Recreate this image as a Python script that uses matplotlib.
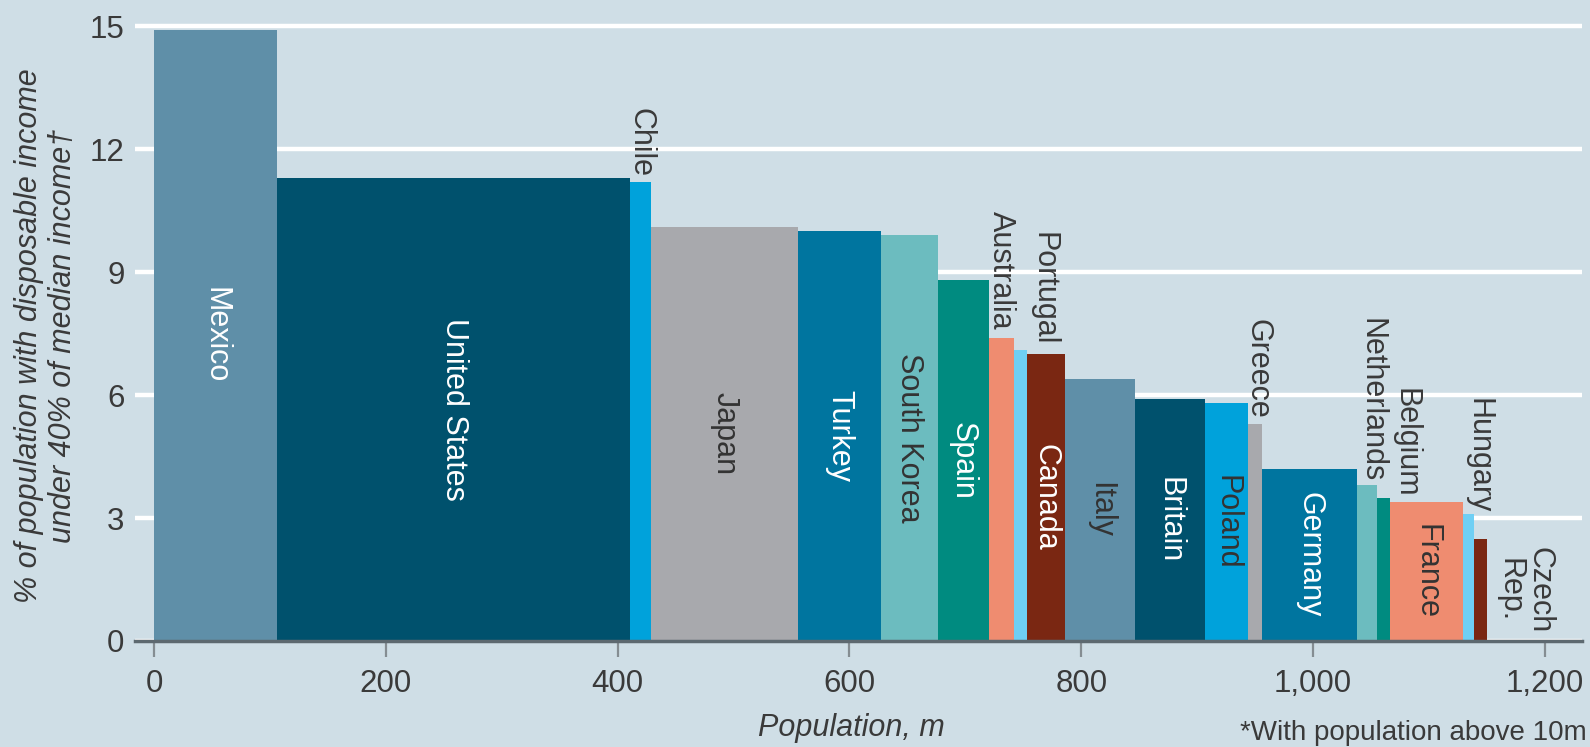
import matplotlib
matplotlib.use("Agg")
import matplotlib.pyplot as plt
import numpy as np

# ---- data ----
countries = ["Mexico", "United States", "Chile", "Japan", "Turkey", "South Korea",
             "Spain", "Australia", "Portugal", "Canada", "Italy", "Britain", "Poland",
             "Greece", "Germany", "Netherlands", "Belgium", "France", "Hungary",
             "Czech\nRep."]
population = [106, 305, 18, 127, 71, 49, 44, 22, 11, 33, 60, 61, 37, 12, 82, 17, 11,
              63, 10, 11]
poor_share = [14.9, 11.3, 11.2, 10.1, 10.0, 9.9, 8.8, 7.4, 7.1, 7.0, 6.4, 5.9, 5.8,
              5.3, 4.2, 3.8, 3.5, 3.4, 3.1, 2.5]
x_ticks = [0, 200, 400, 600, 800, 1000, 1200]
x_tick_labels = ["0", "200", "400", "600", "800", "1,000", "1,200"]
y_ticks = [0, 3, 6, 9, 12, 15]

# ---- styles ----
palette = ["#5f8fa8", "#00516d", "#00a2db", "#a8a9ad", "#00759f",
           "#6cbcbf", "#008b80", "#ef8c70", "#6fcff4", "#7a2712"]
colors = [palette[i % len(palette)] for i in range(len(countries))]
inside = {"Mexico": "white", "United States": "white", "Japan": "#333333",
          "Turkey": "white", "South Korea": "#333333", "Spain": "white",
          "Canada": "white", "Italy": "#333333", "Britain": "white",
          "Poland": "#333333", "Germany": "white", "France": "#333333"}
# outside labels: (x shift, gap above bar) in data units
outside = {"Chile": (0, 0.12), "Australia": (0, 0.2), "Portugal": (20, 0.1),
           "Greece": (2, 0.12), "Netherlands": (4, 0.08), "Belgium": (19, 0.0),
           "Hungary": (9, 0.02)}

BG = "#cfdee6"
TXT = "#3a3a3a"
FONT = ["Liberation Sans", "DejaVu Sans"]
plt.rcParams["font.family"] = FONT

W, H = 1590, 747
fig = plt.figure(figsize=(W / 100, H / 100), dpi=100, facecolor=BG)
ax = fig.add_axes([135 / W, 1 - 641 / H, (1582 - 135) / W, (641 - 22) / H], facecolor=BG)

lefts = np.concatenate([[0], np.cumsum(population)[:-1]])
ax.bar(lefts, poor_share, width=population, align="edge", color=colors,
       linewidth=0, zorder=2)

for name, l, w, v in zip(countries, lefts, population, poor_share):
    cx = l + w / 2
    if name in inside:
        ax.text(cx, v / 2, name, rotation=-90, ha="center", va="center",
                color=inside[name], fontsize=22, zorder=3)
    elif name in outside:
        dx, gap = outside[name]
        ax.text(cx + dx, v + gap, name, rotation=-90, ha="center", va="bottom",
                color=TXT, fontsize=22, zorder=3)
    else:
        ax.text(cx + 38, 1.25, name, rotation=-90, ha="center", va="center",
                color=TXT, fontsize=22, multialignment="center", zorder=3,
                linespacing=1.0)

ax.set_xlim(-16.4, 1232)
ax.set_ylim(0, 15.1)
ax.set_yticks(y_ticks)
ax.set_yticklabels([str(t) for t in y_ticks])
ax.set_xticks(x_ticks)
ax.set_xticklabels(x_tick_labels)
ax.yaxis.grid(True, color="white", linewidth=3.2)
ax.set_axisbelow(True)
for s in ["left", "right", "top"]:
    ax.spines[s].set_visible(False)
ax.spines["bottom"].set_color("#5d6970")
ax.spines["bottom"].set_linewidth(2.5)
ax.spines["bottom"].set_zorder(4)
ax.tick_params(axis="y", length=0, pad=7.5, labelsize=22.5, labelcolor=TXT)
ax.tick_params(axis="x", length=11.5, width=1.6, color="#858d92", pad=9,
               labelsize=22.5, labelcolor=TXT)

fig.text(46 / W, 1 - 336 / H,
         "% of population with disposable income\nunder 40% of median income\u2020",
         rotation=90, ha="center", va="center", multialignment="center",
         style="italic", fontsize=22, color=TXT, linespacing=1.15)
fig.text(758 / W, 1 - 728 / H, "Population, m", ha="left", va="center",
         style="italic", fontsize=22, color=TXT)
fig.text(1587 / W, 1.5 / H, "*With population above 10m", ha="right",
         va="bottom", fontsize=20, color=TXT)

fig.savefig("out.png", dpi=100, facecolor=BG)
